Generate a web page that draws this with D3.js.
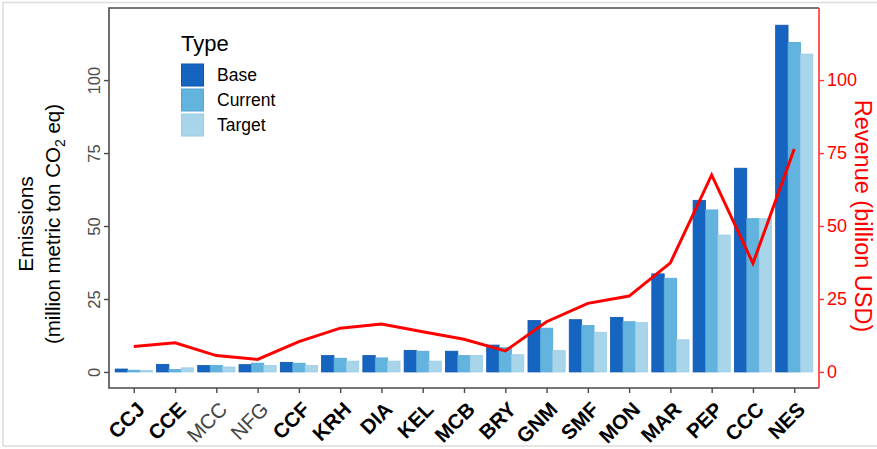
<!DOCTYPE html>
<html>
<head>
<meta charset="utf-8">
<script src="https://cdn.jsdelivr.net/npm/d3@7"></script>
<style>
  html, body { margin: 0; padding: 0; background: #fff; }
  svg { display: block; font-family: "Liberation Sans", Arial, sans-serif; }
</style>
</head>
<body>
<svg id="chart" width="877" height="449"></svg>
<script>
// ---- data ----
const categories = ["CCJ","CCE","MCC","NFG","CCF","KRH","DIA","KEL","MCB","BRY","GNM","SMF","MON","MAR","PEP","CCC","NES"];
const types = ["Base","Current","Target"];
const baseValues    = [1.0, 2.6, 2.2, 2.5, 3.3, 5.6, 5.6, 7.4, 7.1, 9.2, 17.6, 17.9, 18.7, 33.6, 58.8, 69.8, 118.8];
const currentValues = [0.6, 0.8, 2.2, 3.0, 3.0, 4.7, 4.8, 7.1, 5.6, 8.3, 15.0, 15.9, 17.2, 32.1, 55.5, 52.5, 112.9];
const targetValues  = [0.5, 1.4, 1.7, 2.2, 2.2, 3.7, 3.7, 3.7, 5.6, 5.9, 7.3, 13.6, 16.9, 11.0, 46.9, 52.5, 108.9];
const revenueValues = [8.7, 10.0, 5.6, 4.3, 10.4, 15.0, 16.4, 13.8, 11.2, 7.2, 17.2, 23.5, 26.0, 37.4, 67.5, 37.2, 76.4];
const leftTicks  = [0, 25, 50, 75, 100];
const rightTicks = [0, 25, 50, 75, 100];
const plainLabels = ["MCC", "NFG"];

// ---- layout ----
const svg = d3.select("#chart");
const L = 109, R = 819, T = 8, B = 388;
const colors = { Base: "#1565C0", Current: "#62B3DE", Target: "#A8D5EA" };
const strokes = { Base: "#0E55B0", Current: "#52A6D6", Target: "#98CCE5" };

// outer faint frame
svg.append("rect").attr("x", 3).attr("y", 2.5).attr("width", 890).attr("height", 443.5)
  .attr("fill", "none").attr("stroke", "#dcdcdc").attr("stroke-width", 1.5);

const x = d3.scalePoint().domain(categories).range([L, R]).padding(0.6);
const step = x.step();
const xs = d3.scaleBand().domain(types).range([-0.45 * step, 0.45 * step]).padding(0);
const y = d3.scaleLinear().domain([-5.5, 124.7]).range([B, T]);
const y2 = d3.scaleLinear().domain([-5.5, 124.7]).range([B, T]);

const seriesByType = { Base: baseValues, Current: currentValues, Target: targetValues };

// bars
const barData = [];
categories.forEach((c, i) => types.forEach(t => barData.push({ c, t, v: seriesByType[t][i] })));
svg.append("g").selectAll("rect").data(barData).join("rect")
  .attr("x", d => x(d.c) + xs(d.t))
  .attr("width", xs.bandwidth())
  .attr("y", d => y(d.v))
  .attr("height", d => y(0) - y(d.v))
  .attr("fill", d => colors[d.t])
  .attr("stroke", d => strokes[d.t])
  .attr("stroke-width", 0.8);

// revenue line
const line = d3.line().x((d, i) => x(categories[i])).y(d => y2(d));
svg.append("path").datum(revenueValues).attr("d", line)
  .attr("fill", "none").attr("stroke", "#FF0000").attr("stroke-width", 3)
  .attr("stroke-linejoin", "miter").attr("stroke-linecap", "butt");

// panel border (top, left, bottom)
svg.append("path").attr("d", `M${R},${T}H${L}V${B}H${R}`)
  .attr("fill", "none").attr("stroke", "#4a4a4a").attr("stroke-width", 1.6);

// left axis
const gy = svg.append("g").attr("transform", `translate(${L},0)`)
  .call(d3.axisLeft(y).tickValues(leftTicks).tickSize(5).tickSizeOuter(0));
gy.select(".domain").remove();
gy.selectAll(".tick line").attr("stroke", "#4a4a4a").attr("stroke-width", 1.4);
gy.selectAll(".tick text")
  .attr("transform", "rotate(-90)")
  .attr("x", 0).attr("y", -9).attr("dy", 0)
  .attr("text-anchor", "middle")
  .attr("font-size", 16.5).attr("fill", "#4d4d4d");

// right axis
const gr = svg.append("g").attr("transform", `translate(${R},0)`)
  .call(d3.axisRight(y2).tickValues(rightTicks).tickSize(5).tickSizeOuter(0));
gr.select(".domain").attr("d", `M0,${T}V${B}`).attr("stroke", "#FF3030").attr("stroke-width", 1.6);
gr.selectAll(".tick line").attr("stroke", "#FF3030").attr("stroke-width", 1.4);
gr.selectAll(".tick text").attr("x", 8).attr("font-size", 18).attr("fill", "#FF0000");

// bottom axis
const gx = svg.append("g").attr("transform", `translate(0,${B})`)
  .call(d3.axisBottom(x).tickSize(5).tickSizeOuter(0));
gx.select(".domain").remove();
gx.selectAll(".tick line").attr("stroke", "#4a4a4a").attr("stroke-width", 1.4);
gx.selectAll(".tick text")
  .attr("transform", "translate(1,12) rotate(-45)")
  .attr("x", 0).attr("y", 0).attr("dy", "0.74em")
  .attr("text-anchor", "end")
  .attr("font-size", 20.5)
  .attr("font-weight", d => plainLabels.includes(d) ? "normal" : "bold")
  .attr("fill", d => plainLabels.includes(d) ? "#444" : "#000");

// left title
svg.append("text").attr("transform", "translate(33,224) rotate(-90)")
  .attr("text-anchor", "middle").attr("font-size", 21).attr("fill", "#000").text("Emissions");
const lt2 = svg.append("text").attr("transform", "translate(60,224) rotate(-90)")
  .attr("text-anchor", "middle").attr("font-size", 20.5).attr("fill", "#000");
lt2.append("tspan").text("(million metric ton CO");
lt2.append("tspan").attr("font-size", 14).attr("dy", 5).text("2");
lt2.append("tspan").attr("dy", -5).text(" eq)");

// right title
svg.append("text").attr("transform", "translate(855,216) rotate(90)")
  .attr("text-anchor", "middle").attr("font-size", 23.5).attr("fill", "#FF0000")
  .text("Revenue (billion USD)");

// legend
const lg = svg.append("g").attr("transform", "translate(181,0)");
lg.append("text").attr("x", 0).attr("y", 51).attr("font-size", 22).attr("fill", "#000").text("Type");
types.forEach((t, i) => {
  lg.append("rect").attr("x", 0.5).attr("y", 64 + i * 25).attr("width", 22).attr("height", 22)
    .attr("fill", colors[t]).attr("stroke", strokes[t]).attr("stroke-width", 1);
  lg.append("text").attr("x", 36).attr("y", 81 + i * 25).attr("font-size", 17.5).attr("fill", "#000").text(t);
});
</script>
</body>
</html>
